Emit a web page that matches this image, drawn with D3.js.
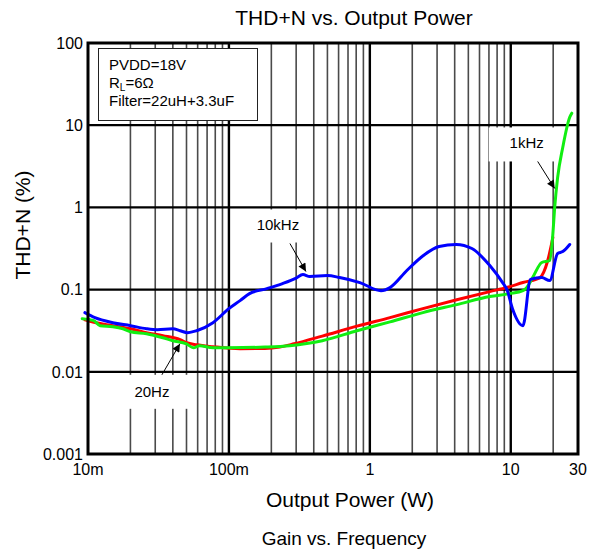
<!DOCTYPE html>
<html>
<head>
<meta charset="utf-8">
<script src="https://cdn.jsdelivr.net/npm/d3@7"></script>
<style>
  html, body { margin: 0; padding: 0; background: #fff; }
  svg text { font-family: "Liberation Sans", Arial, Helvetica, sans-serif; fill: #000; }
</style>
</head>
<body>
<svg id="chart" width="592" height="554"></svg>
<script>
// ---- Data (Output Power in W, THD+N in %) ----
const series20Hz = [
  [0.0095,0.043],[0.011,0.040],[0.015,0.0364],[0.020,0.0334],[0.026,0.0299],[0.034,0.0275],
  [0.045,0.0246],[0.050,0.0226],[0.059,0.0213],[0.077,0.0202],[0.12,0.0191],[0.18,0.0192],
  [0.23,0.0200],[0.29,0.0219],[0.46,0.0272],[0.81,0.0359],[1.39,0.0456],[2.38,0.0587],
  [4.14,0.0751],[7.1,0.0946],[9.4,0.106],[12.2,0.122],[16.1,0.140],[18.3,0.226],[19.9,0.43]
];
const series1kHz = [
  [0.0091,0.0443],[0.011,0.0419],[0.0122,0.0364],[0.015,0.0354],[0.0177,0.0334],[0.020,0.0307],
  [0.026,0.0291],[0.034,0.026],[0.040,0.0239],[0.050,0.0219],[0.056,0.0196],[0.062,0.0208],
  [0.077,0.0196],[0.10,0.0196],[0.18,0.0200],[0.27,0.0208],[0.46,0.0239],[0.81,0.0316],
  [1.39,0.0405],[2.38,0.0525],[4.14,0.0657],[7.1,0.0823],[9.8,0.0894],[12.2,0.0972],
  [13.0,0.106],[14.3,0.140],[16.6,0.2135],[18.9,0.226],[19.9,0.48],[20.5,1.0],[21.5,2.3],
  [23.4,5.4],[26.2,12.5],[27.1,14.0]
];
const series10kHz = [
  [0.0095,0.0525],[0.0112,0.0456],[0.015,0.0396],[0.02,0.0364],[0.026,0.0334],[0.031,0.0325],
  [0.040,0.0334],[0.045,0.0316],[0.051,0.0299],[0.059,0.0316],[0.077,0.0396],[0.10,0.0587],
  [0.12,0.0734],[0.14,0.0894],[0.186,0.1028],[0.24,0.1184],[0.30,0.138],[0.335,0.1524],
  [0.375,0.1442],[0.50,0.1482],[0.61,0.1401],[0.85,0.1217],[1.2,0.097],[1.39,0.1058],
  [1.83,0.1706],[2.4,0.26],[3.1,0.334],[4.1,0.354],[5.3,0.316],[7.1,0.196],[8.8,0.12],
  [9.4,0.1],[10.3,0.058],[12.2,0.0364],[13.8,0.133],[16.6,0.140],[18.9,0.1288],[21.5,0.275],
  [23.4,0.29],[26.2,0.354]
];
const xTickValues = [0.01, 0.1, 1, 10, 30];
const xTickLabels = ["10m", "100m", "1", "10", "30"];
const yTickValues = [100, 10, 1, 0.1, 0.01, 0.001];
const yTickLabels = ["100", "10", "1", "0.1", "0.01", "0.001"];
const seriesNames = ["20Hz", "1kHz", "10kHz"];
const seriesColors = ["#ff0000", "#11ee11", "#0000ff"];
const conditions = ["PVDD=18V", "RL=6\u03A9", "Filter=22uH+3.3uF"];
// annotation anchors (data coords the arrows point to)
const annotations = [
  { label: "10kHz", tip: [0.352, 0.166], start: [-16, -28], text: [-28, -42], box: [-73, -62, 78, 33] },
  { label: "1kHz",  tip: [20.5, 1.70],   start: [-17, -27], text: [-28, -40], box: [-66, -61, 69, 34] },
  { label: "20Hz",  tip: [0.0449, 0.0219], start: [-18, 31], text: [-28, 53], box: [-59, 31, 71, 34] }
];

// ---- Layout ----
const L = 88, R = 578, T = 43, B = 454;
const svg = d3.select("#chart");
const x = d3.scaleLog().domain([0.01, 30]).range([L, R]);
const y = d3.scaleLog().domain([0.001, 100]).range([B, T]);

const isDecade = v => Math.abs(Math.log10(v) - Math.round(Math.log10(v))) < 1e-9;

// grid
const grid = svg.append("g");
const allX = x.ticks().filter(v => v > 0.0100001 && v < 29.9999);
grid.selectAll("line.minor").data(allX.filter(v => !isDecade(v))).join("line")
  .attr("x1", d => x(d)).attr("x2", d => x(d)).attr("y1", T).attr("y2", B)
  .attr("stroke", "#4a4a4a").attr("stroke-width", 1.6);
grid.selectAll("line.majorx").data(allX.filter(isDecade)).join("line")
  .attr("x1", d => x(d)).attr("x2", d => x(d)).attr("y1", T).attr("y2", B)
  .attr("stroke", "#000").attr("stroke-width", 2.4);
grid.selectAll("line.majory").data(yTickValues.filter(v => v < 100 && v > 0.001)).join("line")
  .attr("x1", L).attr("x2", R).attr("y1", d => y(d)).attr("y2", d => y(d))
  .attr("stroke", "#000").attr("stroke-width", 2.2);

// label boxes (white, hide grid)
annotations.forEach(a => {
  const tx = x(a.tip[0]), ty = y(a.tip[1]);
  svg.append("rect").attr("x", tx + a.box[0]).attr("y", ty + a.box[1])
    .attr("width", a.box[2]).attr("height", a.box[3]).attr("fill", "#fff");
});

// conditions box
svg.append("rect").attr("x", 98.5).attr("y", 48.5).attr("width", 159).attr("height", 72)
  .attr("fill", "#fff").attr("stroke", "#222").attr("stroke-width", 1);
const cond = svg.append("g").attr("font-size", 15);
cond.append("text").attr("x", 109).attr("y", 70).text(conditions[0]);
const rl = cond.append("text").attr("x", 109).attr("y", 88);
rl.append("tspan").text("R");
rl.append("tspan").attr("font-size", 10).attr("dy", 3).text("L");
rl.append("tspan").attr("dy", -3).text(conditions[1].slice(2));
cond.append("text").attr("x", 109).attr("y", 106).text(conditions[2]);

// curves
const line = d3.line().x(d => x(d[0])).y(d => y(d[1])).curve(d3.curveMonotoneX);
[series20Hz, series1kHz, series10kHz].forEach((s, i) => {
  svg.append("path").datum(s).attr("d", line).attr("fill", "none")
    .attr("stroke", seriesColors[i]).attr("stroke-width", 3)
    .attr("stroke-linejoin", "round").attr("stroke-linecap", "round");
});

// arrows & annotation text
svg.append("defs").append("marker").attr("id", "arr")
  .attr("viewBox", "0 0 10 10").attr("refX", 10).attr("refY", 5)
  .attr("markerWidth", 10).attr("markerHeight", 8).attr("markerUnits", "userSpaceOnUse")
  .attr("orient", "auto")
  .append("path").attr("d", "M0,0 L10,5 L0,10 Z").attr("fill", "#000");
annotations.forEach(a => {
  const tx = x(a.tip[0]), ty = y(a.tip[1]);
  svg.append("line").attr("x1", tx + a.start[0]).attr("y1", ty + a.start[1])
    .attr("x2", tx).attr("y2", ty).attr("stroke", "#000").attr("stroke-width", 1)
    .attr("marker-end", "url(#arr)");
  svg.append("text").attr("x", tx + a.text[0]).attr("y", ty + a.text[1])
    .attr("text-anchor", "middle").attr("font-size", 15).text(a.label);
});

// frame
svg.append("rect").attr("x", L).attr("y", T).attr("width", R - L).attr("height", B - T)
  .attr("fill", "none").attr("stroke", "#000").attr("stroke-width", 3);

// tick labels
svg.append("g").selectAll("text").data(yTickValues).join("text")
  .attr("x", L - 5).attr("y", d => y(d)).attr("dy", "0.36em")
  .attr("text-anchor", "end").attr("font-size", 16).text((d, i) => yTickLabels[i]);
svg.append("g").selectAll("text").data(xTickValues).join("text")
  .attr("x", d => x(d)).attr("y", 475)
  .attr("text-anchor", "middle").attr("font-size", 16).text((d, i) => xTickLabels[i]);

// titles
svg.append("text").attr("x", 354).attr("y", 25).attr("text-anchor", "middle")
  .attr("font-size", 21).text("THD+N vs. Output Power");
svg.append("text").attr("transform", "translate(30,225) rotate(-90)")
  .attr("text-anchor", "middle").attr("font-size", 21).text("THD+N (%)");
svg.append("text").attr("x", 350).attr("y", 507).attr("text-anchor", "middle")
  .attr("font-size", 21).text("Output Power (W)");
svg.append("text").attr("x", 344).attr("y", 545).attr("text-anchor", "middle")
  .attr("font-size", 19).text("Gain vs. Frequency");
</script>
</body>
</html>
